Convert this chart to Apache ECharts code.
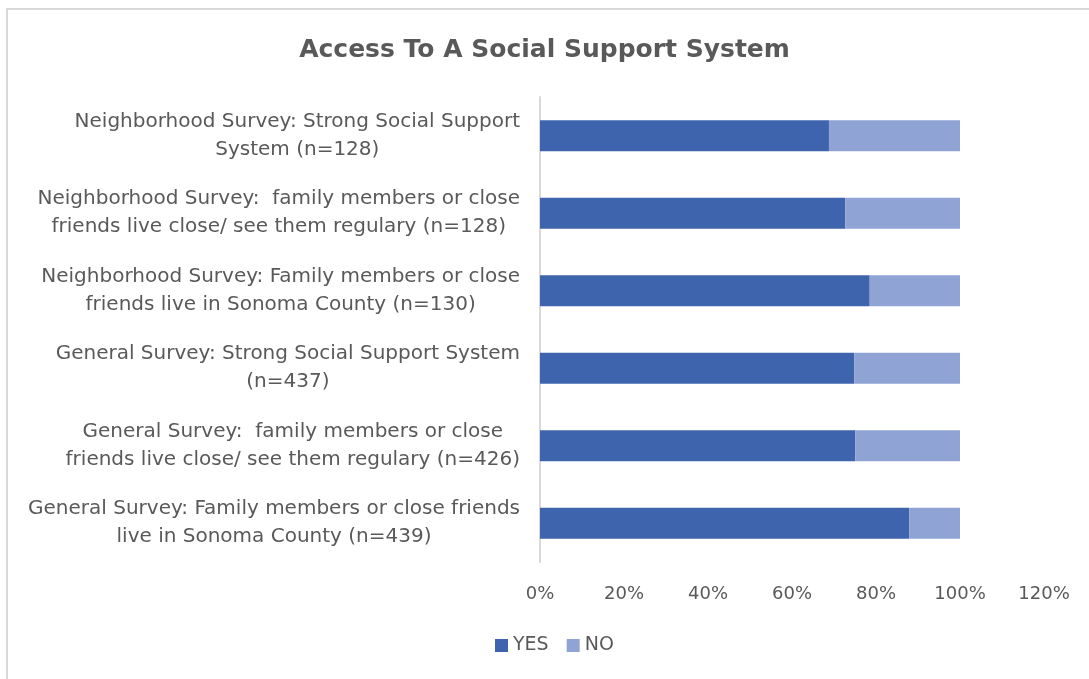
<!DOCTYPE html>
<html>
<head>
<meta charset="utf-8">
<script src="https://cdn.jsdelivr.net/npm/echarts@6/dist/echarts.min.js"></script>
<style>
html,body{margin:0;padding:0;background:#ffffff;}
#chart{width:1089px;height:679px;}
</style>
</head>
<body>
<div id="chart"></div>
<script>
const categories = [
  ["Neighborhood Survey: Strong Social Support", "System (n=128)"],
  ["Neighborhood Survey:  family members or close", "friends live close/ see them regulary (n=128)"],
  ["Neighborhood Survey: Family members or close", "friends live in Sonoma County (n=130)"],
  ["General Survey: Strong Social Support System", "(n=437)"],
  ["General Survey:  family members or close", "friends live close/ see them regulary (n=426)"],
  ["General Survey: Family members or close friends", "live in Sonoma County (n=439)"]
];
const yesValues = [68.8, 72.7, 78.5, 74.8, 75.1, 87.9];
const noValues = [31.2, 27.3, 21.5, 25.2, 24.9, 12.1];
const seriesNames = ["YES", "NO"];
const titleText = "Access To A Social Support System";

const FONT = "DejaVu Sans";
const GRAY = "#595959";
const chart = echarts.init(document.getElementById('chart'), null, {renderer: 'canvas'});
const labels = categories.map(l => l.join("\n"));
chart.setOption({
  backgroundColor: '#ffffff',
  animation: false,
  graphic: [{
    type: 'rect', left: 6, top: 8, z: -10,
    shape: {width: 1100, height: 700},
    style: {fill: '#ffffff', stroke: '#d9d9d9', lineWidth: 2}
  }],
  title: {
    text: titleText, left: 'center', top: 33,
    textStyle: {fontFamily: FONT, fontSize: 25, fontWeight: 'bold', color: GRAY}
  },
  legend: {
    bottom: 19, left: 490, itemWidth: 13, itemHeight: 13, itemGap: 18,
    icon: 'rect',
    textStyle: {fontFamily: FONT, fontSize: 19, color: GRAY},
    data: seriesNames
  },
  grid: {left: 540, right: 45, top: 97, bottom: 117, containLabel: false},
  xAxis: {
    type: 'value', min: 0, max: 120, interval: 20,
    axisLine: {show: false}, axisTick: {show: false}, splitLine: {show: false},
    axisLabel: {formatter: '{value}%', fontFamily: FONT, fontSize: 18, color: GRAY, margin: 23}
  },
  yAxis: {
    type: 'category', inverse: true, data: labels,
    axisLine: {show: true, lineStyle: {color: '#d9d9d9', width: 2}},
    axisTick: {show: false},
    axisLabel: {
      margin: 20, color: GRAY, fontFamily: FONT, fontSize: 20, lineHeight: 28,
      formatter: v => v.split("\n").map(s => '{c|' + s + '}').join("\n"),
      rich: {c: {align: 'center', fontFamily: FONT, fontSize: 20, color: GRAY, lineHeight: 28}}
    }
  },
  series: [
    {name: seriesNames[0], type: 'bar', stack: 'a', data: yesValues, barWidth: '40%',
     itemStyle: {color: '#3D64AC'}},
    {name: seriesNames[1], type: 'bar', stack: 'a', data: noValues, barWidth: '40%',
     itemStyle: {color: '#8FA3D4'}}
  ]
});
</script>
</body>
</html>
